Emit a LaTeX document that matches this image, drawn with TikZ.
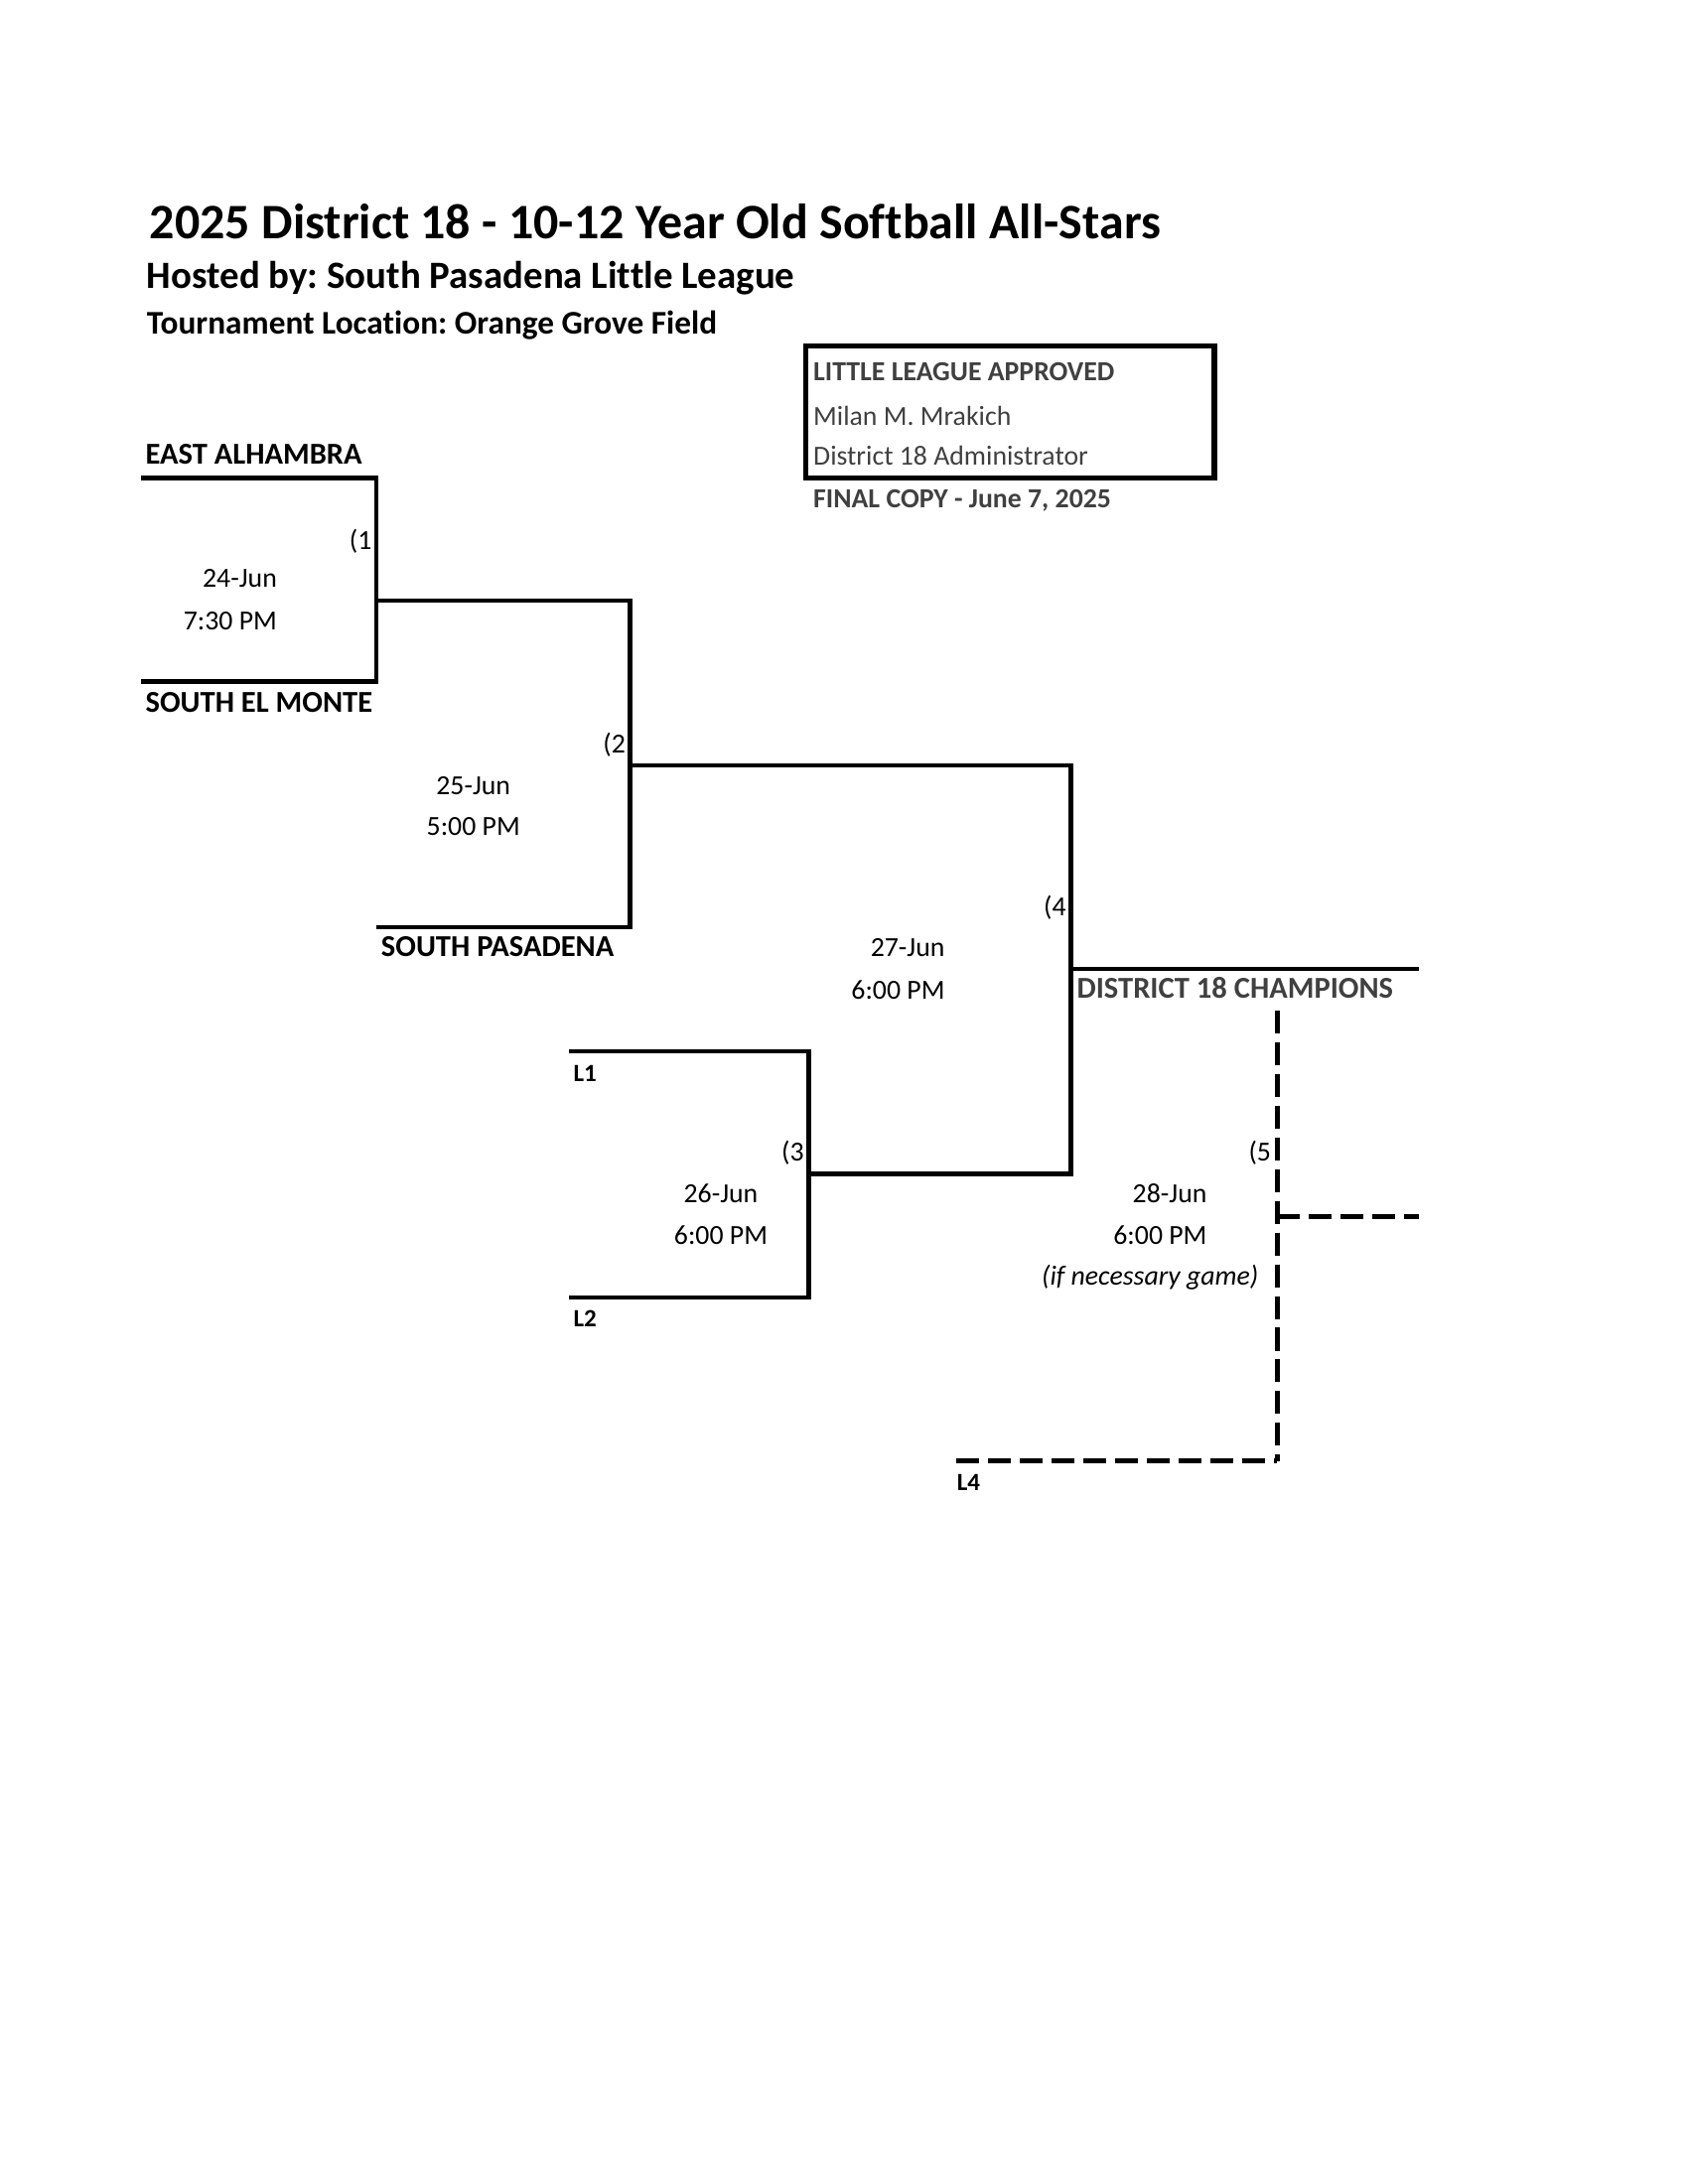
\documentclass[tikz,border=0pt]{standalone}
\usepackage{fontspec}
\setmainfont{Carlito}[Ligatures=NoCommon]
\definecolor{txtgray}{HTML}{404040}
\frenchspacing
\begin{document}
\begin{tikzpicture}[x=0.5055pt,y=-0.5055pt,
  bracket/.style={line width=1.6pt, line join=miter},
  dashline/.style={line width=1.7pt, dash pattern=on 8.3pt off 3.2pt},
  lbl/.style={inner sep=0pt, font=\fontsize{10}{12}\selectfont},
  team/.style={inner sep=0pt, anchor=base west, font=\fontsize{11}{13}\selectfont\bfseries},
  small/.style={inner sep=0pt, anchor=base west, font=\fontsize{9}{11}\selectfont\bfseries},
  boxtxt/.style={inner sep=0pt, anchor=base west, text=txtgray, font=\fontsize{10}{12}\selectfont}]
\useasboundingbox (0pt,0pt) rectangle (612pt,-792pt);

% titles
\node[inner sep=0pt, anchor=base west, font=\fontsize{18}{22}\selectfont\bfseries] (title) at (107,171) {2025 District 18 - 10-12 Year Old Softball All-Stars};
\node[inner sep=0pt, anchor=base west, font=\fontsize{14}{17}\selectfont\bfseries] (host) at (105,207) {Hosted by: South Pasadena Little League};
\node[inner sep=0pt, anchor=base west, font=\fontsize{12}{14}\selectfont\bfseries] (loc) at (105,240) {Tournament Location: Orange Grove Field};

% approval box
\draw[line width=1.9pt] (578,248) rectangle (871,343);
\node[boxtxt, font=\fontsize{10}{12}\selectfont\bfseries] (appr) at (583,273) {LITTLE LEAGUE APPROVED};
\node[boxtxt] (name) at (583,305) {Milan M. Mrakich};
\node[boxtxt] (admin) at (583,334) {District 18 Administrator};
\node[boxtxt, font=\fontsize{10}{12}\selectfont\bfseries] (final) at (583,364) {FINAL COPY - June 7, 2025};

% coordinates
\coordinate (ea) at (101,343);
\coordinate (sem) at (101,489);
\coordinate (g1) at (270,431);
\coordinate (sp) at (270,665);
\coordinate (g2) at (452,549);
\coordinate (l1) at (408,754);
\coordinate (l2) at (408,931);
\coordinate (g3) at (580,842);
\coordinate (g4) at (768,695);
\coordinate (champ) at (1018,695);
\coordinate (g5top) at (916,725);
\coordinate (g5) at (916,873);
\coordinate (g5out) at (1018,873);
\coordinate (l4) at (686,1048);
\coordinate (g5bot) at (916,1048);

% game 1
\draw[bracket] (ea) -| (g1) |- (sem);
\draw[bracket] (g1) -| (g2) |- (sp);
% game 2 -> game 4
\draw[bracket] (g2) -| (g4) |- (g3);
\draw[bracket] (g4) -- (champ);
% game 3
\draw[bracket] (l1) -| (g3) |- (l2);
% game 5 (if necessary)
\draw[dashline] (g5top) -- (g5bot);
\draw[dashline] (l4) -- (g5bot);
\draw[dashline] (g5) -- (g5out);

% team labels
\node[team] (tea) at (104,333) {EAST ALHAMBRA};
\node[team] (tsem) at (104,511) {SOUTH EL MONTE};
\node[team] (tsp) at (273,686) {SOUTH PASADENA};
\node[team, text=txtgray] (tch) at (772,716) {DISTRICT 18 CHAMPIONS};
\node[small] (tl1) at (411,776) {L1};
\node[small] (tl2) at (411,952) {L2};
\node[small] (tl4) at (686,1069) {L4};

% game numbers
\node[lbl, anchor=base east] (n1) at (267,394) {(1};
\node[lbl, anchor=base east] (n2) at (449,540) {(2};
\node[lbl, anchor=base east] (n3) at (577,833) {(3};
\node[lbl, anchor=base east] (n4) at (765,657) {(4};
\node[lbl, anchor=base east] (n5) at (912,833) {(5};

% dates and times
\node[lbl, anchor=base east] (d1) at (199,421) {24-Jun};
\node[lbl, anchor=base east] (t1) at (199,452) {7:30 PM};
\node[lbl, anchor=base] (d2) at (339.5,570) {25-Jun};
\node[lbl, anchor=base] (t2) at (339.5,599) {5:00 PM};
\node[lbl, anchor=base] (d3) at (517,863) {26-Jun};
\node[lbl, anchor=base] (t3) at (517,893) {6:00 PM};
\node[lbl, anchor=base east] (d4) at (678,686) {27-Jun};
\node[lbl, anchor=base east] (t4) at (678,717) {6:00 PM};
\node[lbl, anchor=base east] (d5) at (866,863) {28-Jun};
\node[lbl, anchor=base east] (t5) at (866,893) {6:00 PM};
\node[lbl, anchor=base east, font=\fontsize{10}{12}\selectfont\itshape] (ifn) at (903,922) {(if necessary game)};
\end{tikzpicture}
\end{document}
